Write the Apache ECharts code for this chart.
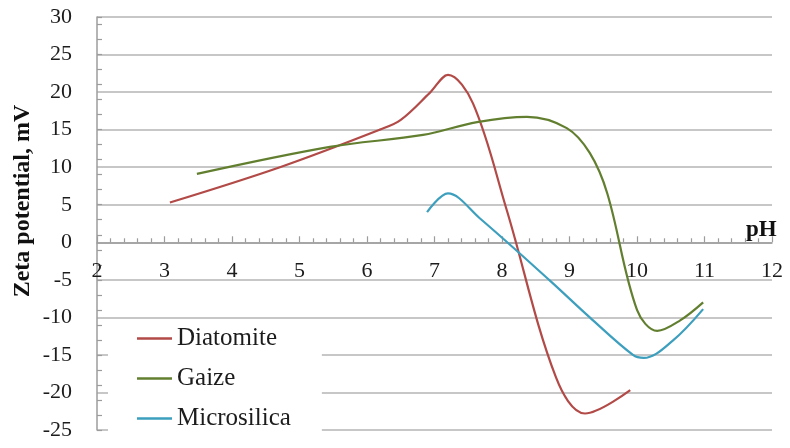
<!DOCTYPE html>
<html>
<head>
<meta charset="utf-8">
<script src="https://cdn.jsdelivr.net/npm/echarts@6/dist/echarts.min.js"></script>
<style>
  html, body { margin: 0; padding: 0; background: #fff; }
  #chart { width: 790px; height: 448px; }
</style>
</head>
<body>
<div id="chart"></div>
<script>
// values
const seriesNames = ['Diatomite', 'Gaize', 'Microsilica']
const xTicks = [2, 3, 4, 5, 6, 7, 8, 9, 10, 11, 12]
const yTitle = 'Zeta potential, mV'

const diatomitePH = [3.08, 4.71, 6.19, 6.5, 6.93, 7.2, 7.57, 8.07, 8.8, 9.23, 9.9]
const diatomiteZeta = [5.3, 10, 15, 16.3, 19.9, 22.3, 18.5, 4.3, -18, -22.8, -19.7]

const gaizePH = [3.48, 5.45, 6.83, 7.63, 8.37, 8.96, 9.3, 9.56, 10.0, 10.3, 10.64, 10.98]
const gaizeZeta = [9.1, 12.7, 14.3, 16, 16.7, 15.2, 11.9, 6.5, -9, -11.8, -10.4, -8]

const microsilicaPH = [6.89, 7.2, 7.67, 8.71, 9.3, 9.94, 10.1, 10.53, 10.98]
const microsilicaZeta = [4, 6.5, 3.2, -5.1, -10, -15, -15.4, -13.1, -8.9]

const colors = ['#b24a47', '#627f30', '#3d9fbe']

const serif = '"Liberation Serif", "Times New Roman", serif'
const gridGray = '#b4b4b4'
const axisGray = '#9c9c9c'

const zip = (xs, ys) => xs.map((x, i) => [x, ys[i]])
const seriesData = [
  zip(diatomitePH, diatomiteZeta),
  zip(gaizePH, gaizeZeta),
  zip(microsilicaPH, microsilicaZeta),
]

const chart = echarts.init(document.getElementById('chart'), null, { renderer: 'canvas' })

const xBase = {
  type: 'value',
  min: xTicks[0],
  max: xTicks[xTicks.length - 1],
  interval: 1,
  splitLine: { show: false },
}

chart.setOption({
  animation: false,
  backgroundColor: '#fff',
  grid: { left: 97, right: 18, top: 17, bottom: 18, outerBoundsMode: 'none' },
  // rotated y title, placed a little above the axis middle like the original
  graphic: [
    {
      type: 'text',
      x: 23,
      y: 201,
      rotation: Math.PI / 2,
      style: {
        text: yTitle,
        font: 'bold 24px ' + serif,
        fill: '#111',
        align: 'center',
        verticalAlign: 'middle',
      },
    },
  ],
  legend: {
    orient: 'vertical',
    left: 108,
    top: 320,
    padding: [6, 31, 3, 29],
    backgroundColor: '#fff',
    icon: 'rect',
    itemWidth: 35,
    itemHeight: 2.5,
    itemGap: 15,
    data: seriesNames,
    textStyle: { fontFamily: serif, fontSize: 25, color: '#1c1c1c', lineHeight: 25 },
  },
  xAxis: [
    {
      // axis line through zero with upward ticks
      ...xBase,
      name: 'pH',
      nameLocation: 'end',
      nameGap: -26,
      nameTextStyle: {
        fontFamily: serif, fontSize: 23, fontWeight: 'bold', color: '#111',
        align: 'left', verticalAlign: 'bottom', padding: [0, 0, 1, 0],
      },
      axisLine: { onZero: true, lineStyle: { color: axisGray, width: 1.5 } },
      axisTick: { show: true, inside: true, length: 6, lineStyle: { color: axisGray, width: 1.2 } },
      minorTick: { show: true, splitNumber: 5, length: 4, lineStyle: { color: axisGray, width: 1.2 } },
      axisLabel: { show: false },
    },
    {
      // tick labels just below the zero line
      ...xBase,
      position: 'bottom',
      offset: -170,
      axisLine: { show: false, onZero: false },
      axisTick: { show: false },
      axisLabel: { fontFamily: serif, fontSize: 22, color: '#1c1c1c', margin: 0 },
    },
  ],
  yAxis: [
    {
      type: 'value',
      min: -25,
      max: 30,
      interval: 5,
      axisLine: { show: true, onZero: false, lineStyle: { color: axisGray, width: 1.5 } },
      axisTick: { show: false },
      splitLine: { show: true, lineStyle: { color: gridGray, width: 1.5 } },
      axisLabel: { fontFamily: serif, fontSize: 22, color: '#1c1c1c', margin: 25 },
    },
    {
      // odd-valued minor ticks on the left axis
      type: 'value',
      position: 'left',
      min: -25,
      max: 30,
      interval: 2,
      axisLine: { show: false, onZero: false },
      axisTick: { show: true, inside: true, length: 5, lineStyle: { color: axisGray, width: 1.2 } },
      axisLabel: { show: false },
      splitLine: { show: false },
    },
  ],
  series: seriesNames.map((name, i) => ({
    name,
    type: 'line',
    data: seriesData[i],
    symbol: 'none',
    smooth: 0.35,
    color: colors[i],
    lineStyle: { color: colors[i], width: 2.2 },
    z: 3,
  })),
})
</script>
</body>
</html>
